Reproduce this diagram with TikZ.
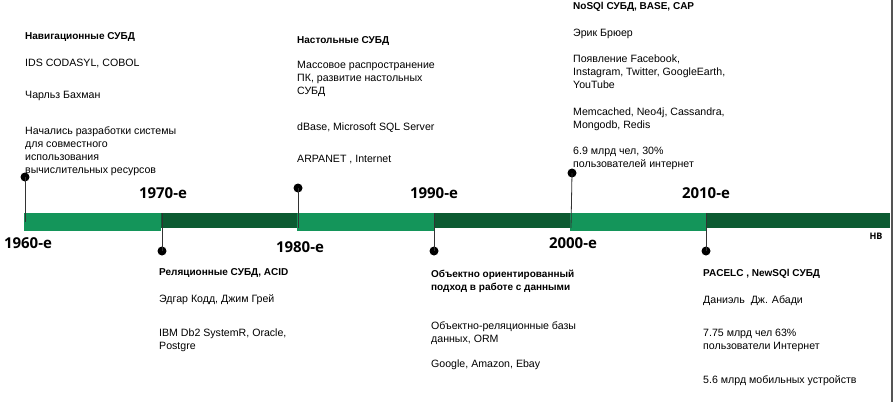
\documentclass[tikz,border=0pt]{standalone}
\usepackage{fontspec}
\setmainfont{Liberation Sans}
\newfontfamily\erafont{Open Sans}
\usetikzlibrary{positioning}

\definecolor{barlight}{HTML}{14955A}
\definecolor{bardark}{HTML}{0C5B32}
\definecolor{edgegray}{HTML}{555555}

\begin{document}
\begin{tikzpicture}[x=1pt, y=-1pt,
    era/.style={font=\erafont\bfseries\fontsize{15}{18}\selectfont, inner sep=0pt},
    head/.style={font=\bfseries\fontsize{10}{13}\selectfont, align=left, anchor=north west, inner sep=0pt},
    info/.style={font=\fontsize{10.6}{13}\selectfont, align=left, anchor=north west, inner sep=0pt},
    pin/.style={circle, fill=black, inner sep=0pt, minimum size=9pt},
    stem/.style={draw=black!80, line width=0.8pt}]
    \useasboundingbox (0,0) rectangle (895,402);

    % timeline bar
    \fill[barlight] (24,213) rectangle (161,230.5);
    \fill[bardark]  (161,213) rectangle (297,228);
    \fill[barlight] (297,213) rectangle (434,230.5);
    \fill[bardark]  (434,213) rectangle (570,228);
    \fill[barlight] (570,213) rectangle (706,230.5);
    \fill[bardark]  (706,213) rectangle (890,228);
    \draw[edgegray, line width=1.6pt] (892,0) -- (892,402);

    % points on the bar
    \coordinate (b60) at (25,222);
    \coordinate (b70) at (162,213);
    \coordinate (b80) at (298,228);
    \coordinate (b90) at (434,213);
    \coordinate (b00) at (571,228);
    \coordinate (b10) at (706,213);

    % pins
    \node[pin] (p60) at (25,177) {};
    \node[pin] (p70) at (162,251) {};
    \node[pin] (p80) at (298,188) {};
    \node[pin] (p90) at (434,251) {};
    \node[pin] (p00) at (572,173) {};
    \node[pin] (p10) at (706,251) {};

    \draw[stem] (p60.center) -- (b60);
    \draw[stem] (p70.center) -- (b70);
    \draw[stem] (p80.center) -- (b80);
    \draw[stem] (p90.center) -- (b90);
    \draw[stem] (p00.center) -- (b00);
    \draw[stem] (p10.center) -- (b10);

    % decades
    \node[era] (y60) at (28,243) {1960-e};
    \node[era] (y70) at (163,193) {1970-e};
    \node[era] (y80) at (300,247) {1980-e};
    \node[era] (y90) at (434,193) {1990-e};
    \node[era] (y00) at (573,243) {2000-e};
    \node[era] (y10) at (706,193) {2010-e};
    \node[era, font=\erafont\bfseries\fontsize{9}{11}\selectfont] (ynow) at (876,236) {НВ};

    % 1960
    \node[head] (nav)   at (25,32.5)  {Навигационные СУБД};
    \node[info] (nav1)  at (25,58.5)  {IDS CODASYL, COBOL};
    \node[info] (nav2)  at (25,91.5)  {Чарльз Бахман};
    \node[info] (nav3)  at (25,126.5) {Начались разработки системы\\для совместного\\использования\\вычислительных ресурсов};

    % 1970
    \node[head] (rel)   at (159,268.5) {Реляционные СУБД, ACID};
    \node[info] (rel1)  at (159,294.5) {Эдгар Кодд, Джим Грей};
    \node[info] (rel2)  at (159,328.5) {IBM Db2 SystemR, Oracle,\\Postgre};

    % 1980
    \node[head] (desk)  at (297,36.5)  {Настольные СУБД};
    \node[info] (desk1) at (297,61.5)  {Массовое распространение\\ПК, развитие настольных\\СУБД};
    \node[info] (desk2) at (297,122.5) {dBase, Microsoft SQL Server};
    \node[info] (desk3) at (297,155.5) {ARPANET , Internet};

    % 1990
    \node[head] (obj)   at (431,269.5) {Объектно ориентированный\\подход в работе с данными};
    \node[info] (obj1)  at (431,321.5) {Объектно-реляционные базы\\данных, ORM};
    \node[info] (obj2)  at (431,359.5) {Google, Amazon, Ebay};

    % 2000
    \node[head] (nosql)  at (573,2.5)   {NoSQl СУБД, BASE, CAP};
    \node[info] (nosql1) at (573,28.5)  {Эрик Брюер};
    \node[info] (nosql2) at (573,54.5)  {Появление Facebook,\\Instagram, Twitter, GoogleEarth,\\YouTube};
    \node[info] (nosql3) at (573,107.5) {Memcached, Neo4j, Cassandra,\\Mongodb, Redis};
    \node[info] (nosql4) at (573,146.5) {6.9 млрд чел, 30\%\\пользователей интернет};

    % 2010
    \node[head] (newsql)  at (703,269.5) {PACELC , NewSQl СУБД};
    \node[info] (newsql1) at (703,295.5) {Даниэль\ \ Дж. Абади};
    \node[info] (newsql2) at (703,328.5) {7.75 млрд чел 63\%\\пользователи Интернет};
    \node[info] (newsql3) at (703,375.5) {5.6 млрд мобильных устройств};
\end{tikzpicture}
\end{document}
